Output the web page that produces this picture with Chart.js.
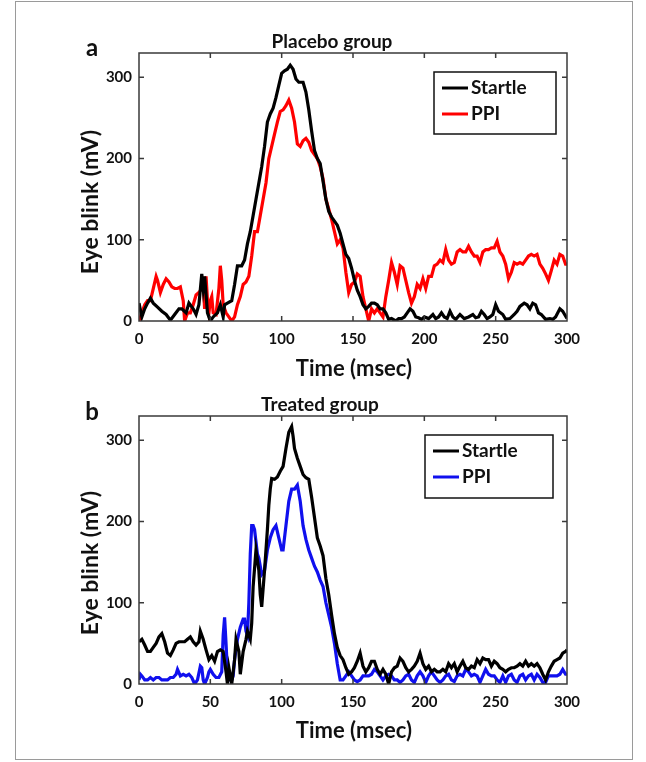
<!DOCTYPE html>
<html>
<head>
<meta charset="utf-8">
<script src="https://cdn.jsdelivr.net/npm/chart.js@4.4.1/dist/chart.umd.min.js"></script>
<style>
  body{margin:0;background:#fff;}
  #wrap{position:relative;width:646px;height:762px;overflow:hidden;font-family:Lato,"Open Sans",sans-serif;color:#111;}
  #wrap canvas{position:absolute;left:0;}
  .txt{position:absolute;font-weight:bold;white-space:nowrap;transform:translate(-50%,-50%);line-height:1;}
  .ylab{transform:translate(-50%,-50%) rotate(-90deg);}
  #border{position:absolute;left:15px;top:1px;width:616px;height:757px;border:1px solid #9a9a9a;}
</style>
</head>
<body>
<div id="wrap">
  <div id="border"></div>
  <canvas id="chartA" width="646" height="381" style="top:0"></canvas>
  <canvas id="chartB" width="646" height="381" style="top:381px"></canvas>
  <div class="txt" style="left:92px;top:47px;font-size:24px">a</div>
  <div class="txt" style="left:332px;top:40px;font-size:19px">Placebo group</div>
  <div class="txt" style="left:354px;top:368px;font-size:22px">Time (msec)</div>
  <div class="txt ylab" style="left:89px;top:202px;font-size:23px">Eye blink (mV)</div>
  <div class="txt" style="left:92px;top:411px;font-size:24px">b</div>
  <div class="txt" style="left:320px;top:403px;font-size:19px">Treated group</div>
  <div class="txt" style="left:354px;top:730px;font-size:22px">Time (msec)</div>
  <div class="txt ylab" style="left:89px;top:563px;font-size:23px">Eye blink (mV)</div>
</div>
<script>
// AXES
const xTicks = [0,50,100,150,200,250,300];
const yTicks = [0,100,200,300];

// PLACEBO GROUP (a)
const placeboStartleT = [0,2,4,6,8,10,13,16,19,22,25,28,30,33,35,38,40,42,44,45,46,48,50,52,55,57,59,60,62,65,67,69,72,74,76,78,80,82,84,86,88,90,92,94,96,98,100,102,104,106,108,110,112,115,117,119,121,123,125,127,129,131,133,135,137,139,141,143,145,147,149,151,153,155,157,159,161,163,165,167,169,171,173,175,177,180,182,184,186,188,190,192,194,196,198,200,203,206,208,210,212,214,216,218,220,222,225,228,231,234,236,238,240,242,244,246,248,250,252,255,257,260,263,265,267,270,272,274,276,278,280,282,285,288,290,292,295,297,300];
const placeboStartleV = [22,5,15,22,28,22,17,12,8,1,8,15,15,10,22,15,8,20,58,40,55,10,0,5,10,20,5,20,22,25,45,68,68,75,95,110,130,150,170,190,215,245,255,262,275,290,305,308,310,315,310,298,294,294,282,260,234,210,200,194,172,150,135,128,123,118,108,95,82,77,65,50,38,30,20,15,18,22,22,20,15,15,10,2,3,0,3,3,5,10,15,12,5,4,2,5,3,8,3,5,10,5,3,12,5,2,8,3,5,8,4,5,12,8,3,5,8,20,12,8,2,3,8,12,18,22,20,15,22,20,10,8,2,3,2,5,15,12,3];
const placeboPPIT = [0,2,4,6,8,10,12,13,15,17,19,21,23,25,27,29,31,32,34,36,38,40,42,44,45,46,47,48,49,50,51,52,54,56,57,58,59,61,63,65,67,69,71,73,75,77,79,81,83,85,87,89,91,93,95,97,99,101,103,105,107,109,111,113,115,117,119,121,123,125,127,129,131,133,135,137,139,141,143,145,147,149,151,153,155,157,159,161,163,165,167,169,171,173,175,177,179,181,183,185,187,189,191,193,195,197,199,201,203,205,207,209,211,213,215,217,219,221,223,225,227,229,231,233,235,237,239,241,243,245,247,249,251,253,255,257,259,261,263,265,267,269,271,273,275,277,279,281,283,285,287,289,291,293,295,297,299,300];
const placeboPPIV = [0,10,20,25,25,40,55,50,35,45,52,48,42,40,40,42,25,0,10,10,20,32,35,40,45,15,55,25,10,25,30,10,8,40,68,50,20,10,5,0,5,20,30,45,48,55,80,110,110,130,150,170,200,215,230,245,258,260,265,272,262,245,218,215,222,225,220,210,205,200,190,175,150,138,125,110,95,100,90,60,35,45,48,58,55,30,15,0,15,10,15,10,5,30,50,72,60,45,68,65,50,35,22,30,45,40,52,40,55,55,68,70,75,72,88,75,70,72,85,88,85,85,92,85,80,80,72,85,88,88,90,90,98,85,80,70,52,60,72,70,72,70,75,80,82,80,82,70,65,58,50,62,75,70,82,80,70,70];

// TREATED GROUP (b)
const treatedStartleT = [0,2,4,6,8,10,12,14,16,18,20,22,24,26,28,30,32,34,36,38,40,42,43,45,47,49,51,53,55,57,59,61,62,63,64,65,67,68,70,71,73,75,76,78,79,80,82,84,85,86,88,90,91,92,93,95,97,99,101,103,105,107,108,109,111,113,115,117,119,121,123,125,127,129,131,133,135,137,139,141,143,145,147,149,151,153,155,157,159,161,163,165,167,169,171,173,175,177,179,181,183,185,187,189,191,193,195,197,199,201,203,205,207,209,211,213,215,217,219,221,223,225,227,229,231,233,235,237,239,241,243,245,247,249,251,253,255,257,259,261,263,265,267,269,271,273,275,277,279,281,283,285,287,289,291,293,295,297,299,300];
const treatedStartleV = [52,55,48,40,40,45,50,58,62,52,38,35,42,50,52,52,52,55,58,52,48,52,65,55,42,30,35,28,40,42,40,15,0,20,10,0,30,55,40,12,40,55,65,55,75,120,165,140,110,95,140,190,220,240,253,252,255,262,268,290,310,317,305,290,278,268,258,254,252,230,205,180,170,158,130,110,85,62,45,35,30,20,12,15,20,28,38,22,15,20,28,28,18,12,18,12,0,15,20,22,32,28,20,15,18,22,28,38,25,18,22,15,18,15,15,18,15,25,20,25,15,22,28,20,18,22,20,30,25,32,30,30,22,28,25,20,18,15,18,20,20,22,25,22,28,22,25,22,25,20,12,5,15,22,28,30,32,38,40,42];
const treatedPPIT = [0,1,2,4,6,8,10,12,14,16,18,20,22,24,26,27,29,31,33,35,37,39,41,43,44,45,46,48,49,50,52,54,56,58,59,60,61,62,63,65,66,67,69,71,73,74,75,76,77,78,79,80,81,82,83,84,86,88,90,92,94,96,98,100,101,103,105,107,109,111,113,115,117,119,121,123,125,127,129,131,133,135,137,139,141,143,145,147,149,151,153,155,157,159,161,163,165,167,169,171,173,175,177,179,181,183,185,187,189,191,193,195,197,199,201,203,205,207,209,211,213,215,217,219,221,223,225,227,229,231,233,235,237,239,241,243,245,247,249,251,253,255,257,259,261,263,265,267,269,271,273,275,277,279,281,283,285,287,289,291,293,295,297,299,300];
const treatedPPIV = [5,12,10,5,5,8,5,8,8,5,5,5,8,8,12,18,10,12,10,12,8,0,5,22,20,5,0,8,15,18,12,8,8,15,60,82,50,15,5,5,10,30,55,70,80,80,65,60,100,160,195,195,190,175,160,155,135,140,165,180,190,195,180,165,165,195,225,240,240,245,225,195,178,165,155,145,138,128,120,100,85,70,50,25,5,5,10,15,10,5,3,5,10,10,10,12,18,15,10,5,10,12,10,5,5,2,5,10,12,5,2,10,15,10,2,10,15,10,5,2,5,10,12,5,3,10,12,10,18,15,10,12,10,2,10,18,12,10,10,5,2,10,2,10,12,5,2,10,12,5,10,12,5,12,8,2,2,10,10,10,10,12,18,12,12];

const toPoints = (t, v) => t.map((x, i) => ({x, y: v[i]}));

// frame, inward ticks and boxed legend, matlab style
const framePlugin = {
  id: 'frame',
  afterDraw(chart){
    const {ctx, chartArea: a, scales: {x, y}} = chart;
    ctx.save();
    ctx.strokeStyle = '#3a3a3a';
    ctx.lineWidth = 1.5;
    ctx.strokeRect(a.left, a.top, a.width, a.height);
    ctx.beginPath();
    xTicks.slice(1, -1).forEach(v => {
      const px = x.getPixelForValue(v);
      ctx.moveTo(px, a.bottom); ctx.lineTo(px, a.bottom - 5);
      ctx.moveTo(px, a.top); ctx.lineTo(px, a.top + 5);
    });
    yTicks.slice(1).forEach(v => {
      const py = y.getPixelForValue(v);
      ctx.moveTo(a.left, py); ctx.lineTo(a.left + 5, py);
      ctx.moveTo(a.right, py); ctx.lineTo(a.right - 5, py);
    });
    ctx.stroke();

    const lg = chart.options.plugins.frame.box;
    ctx.fillStyle = '#fff';
    ctx.fillRect(lg.x, lg.y, lg.w, lg.h);
    ctx.strokeStyle = '#111';
    ctx.lineWidth = 1.5;
    ctx.strokeRect(lg.x, lg.y, lg.w, lg.h);
    ctx.font = 'bold 19px Lato';
    ctx.textBaseline = 'middle';
    chart.data.datasets.forEach((ds, i) => {
      const ry = lg.y + 16 + i * 26;
      ctx.strokeStyle = ds.borderColor;
      ctx.lineWidth = 3;
      ctx.beginPath();
      ctx.moveTo(lg.x + 8, ry); ctx.lineTo(lg.x + 34, ry);
      ctx.stroke();
      ctx.fillStyle = '#111';
      ctx.fillText(ds.label, lg.x + 37, ry);
    });
    ctx.restore();
  }
};

function makeChart(id, sets, pad, xHeight, box){
  return new Chart(document.getElementById(id), {
    type: 'line',
    data: {
      datasets: sets.map(s => ({
        label: s.label,
        data: toPoints(s.t, s.v),
        borderColor: s.color,
        borderWidth: 3.2,
        pointRadius: 0,
        tension: 0
      }))
    },
    options: {
      responsive: false,
      animation: false,
      devicePixelRatio: 1,
      layout: {padding: pad},
      plugins: {legend: {display: false}, tooltip: {enabled: false}, frame: {box}},
      scales: {
        x: {
          type: 'linear', min: 0, max: 300,
          afterBuildTicks: s => { s.ticks = xTicks.map(value => ({value})); },
          afterFit: s => { s.height = xHeight; },
          ticks: {font: {family: 'Lato', size: 15, weight: 'bold'}, color: '#111', padding: 9, maxRotation: 0},
          grid: {display: false, drawTicks: false},
          border: {display: false}
        },
        y: {
          type: 'linear', min: 0, max: 330,
          afterBuildTicks: s => { s.ticks = yTicks.map(value => ({value})); },
          afterFit: s => { s.width = 139; },
          ticks: {font: {family: 'Lato', size: 15, weight: 'bold'}, color: '#111', padding: 7},
          grid: {display: false, drawTicks: false},
          border: {display: false}
        }
      }
    },
    plugins: [framePlugin]
  });
}

makeChart('chartA', [
  {label: 'Startle', t: placeboStartleT, v: placeboStartleV, color: '#000'},
  {label: 'PPI', t: placeboPPIT, v: placeboPPIV, color: '#ff0000'}
], {left: 0, right: 79, top: 53, bottom: 0}, 60, {x: 434, y: 72, w: 122, h: 62});

makeChart('chartB', [
  {label: 'Startle', t: treatedStartleT, v: treatedStartleV, color: '#000'},
  {label: 'PPI', t: treatedPPIT, v: treatedPPIV, color: '#1010ee'}
], {left: 0, right: 79, top: 35, bottom: 0}, 78, {x: 425, y: 54, w: 128, h: 63});
</script>
</body>
</html>
